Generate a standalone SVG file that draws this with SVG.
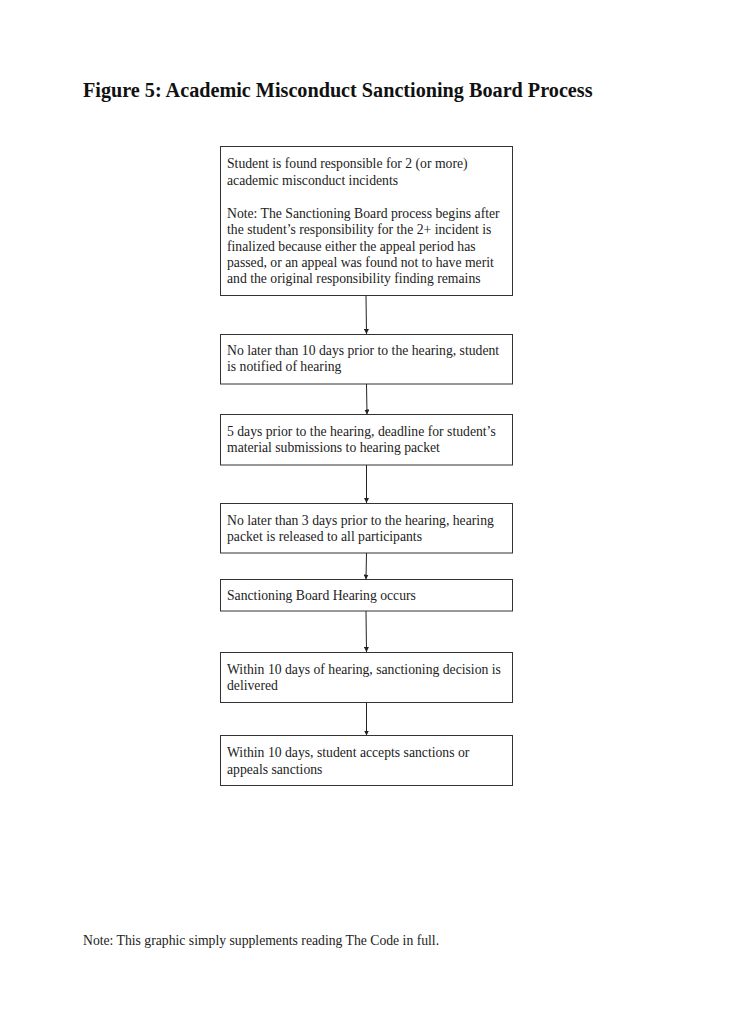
<svg xmlns="http://www.w3.org/2000/svg" width="731" height="1024" viewBox="0 0 731 1024">
<style>
.box{fill:#fff;stroke:#333;stroke-width:1}
.t{font-family:"Liberation Serif",serif;font-size:13.7px;fill:#222}
.title{font-family:"Liberation Serif",serif;font-size:20.2px;font-weight:bold;fill:#111}
.c{stroke:#222;stroke-width:1;fill:none}
</style>
<defs>
<marker id="ah" viewBox="0 0 6 6" refX="6" refY="3" markerWidth="5" markerHeight="5" orient="auto" markerUnits="userSpaceOnUse">
<path d="M0,0 L6,3 L0,6 z" fill="#222"/>
</marker>
</defs>
<rect width="731" height="1024" fill="#fff"/>
<text class="title" x="83" y="97">Figure 5: Academic Misconduct Sanctioning Board Process</text>
<g id="connectors">
<line class="c" x1="366" y1="296" x2="366.5" y2="334" marker-end="url(#ah)"/>
<line class="c" x1="366.5" y1="384" x2="367" y2="414.5" marker-end="url(#ah)"/>
<line class="c" x1="366.5" y1="465" x2="366.5" y2="503" marker-end="url(#ah)"/>
<line class="c" x1="366.5" y1="553" x2="366" y2="579.5" marker-end="url(#ah)"/>
<line class="c" x1="366" y1="611" x2="366.5" y2="652" marker-end="url(#ah)"/>
<line class="c" x1="366.5" y1="702.5" x2="366.5" y2="735.5" marker-end="url(#ah)"/>
</g>
<g id="n1">
<rect class="box" x="220.5" y="146.5" width="292" height="149"/>
<text class="t" x="227" y="168">Student is found responsible for 2 (or more)</text>
<text class="t" x="227" y="184.5">academic misconduct incidents</text>
<text class="t" x="227" y="218">Note: The Sanctioning Board process begins after</text>
<text class="t" x="227" y="234">the student’s responsibility for the 2+ incident is</text>
<text class="t" x="227" y="250.5">finalized because either the appeal period has</text>
<text class="t" x="227" y="266.5">passed, or an appeal was found not to have merit</text>
<text class="t" x="227" y="282.5">and the original responsibility finding remains</text>
</g>
<g id="n2">
<rect class="box" x="220.5" y="334.5" width="292" height="49.5"/>
<text class="t" x="227" y="354.5">No later than 10 days prior to the hearing, student</text>
<text class="t" x="227" y="371">is notified of  hearing</text>
</g>
<g id="n3">
<rect class="box" x="220.5" y="414.5" width="292" height="50.5"/>
<text class="t" x="227" y="435.5">5 days prior to the hearing, deadline for student’s</text>
<text class="t" x="227" y="452">material submissions to hearing packet</text>
</g>
<g id="n4">
<rect class="box" x="220.5" y="503.5" width="292" height="49.5"/>
<text class="t" x="227" y="524.5">No later than 3 days prior to the hearing, hearing</text>
<text class="t" x="227" y="540.5">packet is released to all participants</text>
</g>
<g id="n5">
<rect class="box" x="220.5" y="579.5" width="292" height="31.5"/>
<text class="t" x="227" y="600">Sanctioning Board Hearing occurs</text>
</g>
<g id="n6">
<rect class="box" x="220.5" y="652.5" width="292" height="50"/>
<text class="t" x="227" y="673.5">Within 10 days of  hearing, sanctioning decision is</text>
<text class="t" x="227" y="690">delivered</text>
</g>
<g id="n7">
<rect class="box" x="220.5" y="735.5" width="292" height="50"/>
<text class="t" x="227" y="757">Within 10 days, student accepts sanctions or</text>
<text class="t" x="227" y="773.5">appeals sanctions</text>
</g>
<text class="t" x="83" y="944.5">Note: This graphic simply supplements reading The Code in full.</text>
</svg>
